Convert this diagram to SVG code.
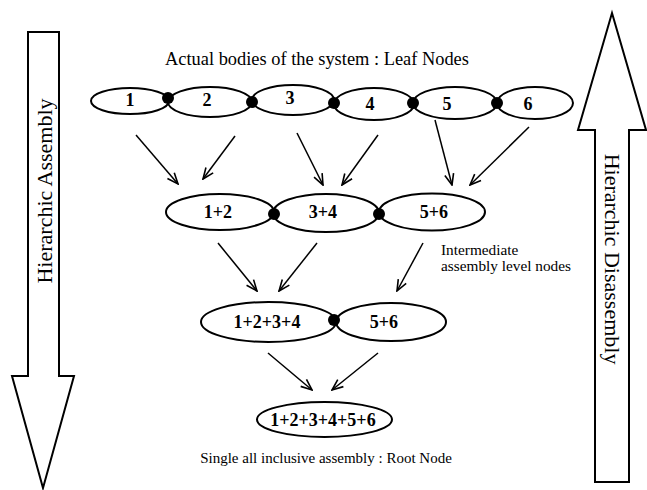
<svg xmlns="http://www.w3.org/2000/svg" width="647" height="490" viewBox="0 0 647 490">
<style>
.bg{fill:#fff}
.big{fill:#fff;stroke:#000;stroke-width:2}
.n{fill:#fff;stroke:#000;stroke-width:2}
.dot{fill:#000}
.lbl{font-family:"Liberation Serif",serif;font-weight:bold;font-size:18px;text-anchor:middle;fill:#000}
.txt{font-family:"Liberation Serif",serif;fill:#000}
.c{stroke:#000;stroke-width:1.5;fill:none;marker-end:url(#ah)}
</style>
<defs>
<marker id="ah" markerUnits="userSpaceOnUse" markerWidth="13" markerHeight="13" refX="12" refY="6.5" orient="auto" viewBox="0 0 13 13">
<path d="M1,2 L12,6.5 L1,11" fill="none" stroke="#000" stroke-width="1.6"/>
</marker>
</defs>
<rect class="bg" x="0" y="0" width="647" height="490"/>

<g id="arrow-assembly">
<path class="big" d="M28,32 L59,32 L59,376 L74,376 L43,488 L12,376 L28,376 Z"/>
<text class="txt" font-size="22" text-anchor="middle" transform="translate(52,191) rotate(-90)">Hierarchic Assembly</text>
</g>
<g id="arrow-disassembly">
<path class="big" d="M612,13 L646,130 L629,130 L629,482 L595,482 L595,130 L578,130 Z"/>
<text class="txt" font-size="22" text-anchor="middle" transform="translate(605,259) rotate(90)">Hierarchic Disassembly</text>
</g>

<g id="label-leaf"><text class="txt" font-size="18.4" x="317" y="65" text-anchor="middle">Actual bodies of the system : Leaf Nodes</text></g>
<g id="label-intermediate"><text class="txt" font-size="15.3" x="441" y="255">Intermediate</text><text class="txt" font-size="15.3" x="441" y="271">assembly level nodes</text></g>
<g id="label-root"><text class="txt" font-size="15" x="326" y="463" text-anchor="middle">Single all inclusive assembly : Root Node</text></g>

<g id="connectors">
<line class="c" x1="136" y1="135" x2="178" y2="184"/>
<line class="c" x1="235" y1="136" x2="203" y2="179"/>
<line class="c" x1="297" y1="133" x2="323" y2="185"/>
<line class="c" x1="378" y1="135" x2="342" y2="185"/>
<line class="c" x1="435" y1="120" x2="452" y2="185"/>
<line class="c" x1="529" y1="127" x2="470" y2="185"/>
<line class="c" x1="218" y1="243" x2="257" y2="291"/>
<line class="c" x1="317" y1="243" x2="279" y2="291"/>
<line class="c" x1="423" y1="243" x2="397" y2="291"/>
<line class="c" x1="268" y1="353" x2="312" y2="390"/>
<line class="c" x1="378" y1="353" x2="332" y2="390"/>
</g>

<g id="leaf-1"><ellipse class="n" cx="130" cy="101" rx="39" ry="13"/><text class="lbl" x="130" y="106">1</text></g>
<g id="leaf-2"><ellipse class="n" cx="210" cy="102" rx="42" ry="15"/><text class="lbl" x="207" y="106">2</text></g>
<g id="leaf-3"><ellipse class="n" cx="293" cy="100" rx="41" ry="15"/><text class="lbl" x="290" y="104">3</text></g>
<g id="leaf-4"><ellipse class="n" cx="374" cy="104" rx="40" ry="16"/><text class="lbl" x="370" y="110">4</text></g>
<g id="leaf-5"><ellipse class="n" cx="455" cy="103" rx="42" ry="16"/><text class="lbl" x="447" y="110">5</text></g>
<g id="leaf-6"><ellipse class="n" cx="535" cy="103" rx="38" ry="16"/><text class="lbl" x="528" y="110">6</text></g>
<g id="joints-leaf">
<circle class="dot" cx="168" cy="98" r="6"/>
<circle class="dot" cx="252" cy="102" r="6"/>
<circle class="dot" cx="334" cy="103" r="6"/>
<circle class="dot" cx="413" cy="103" r="6"/>
<circle class="dot" cx="497" cy="103" r="6"/>
</g>

<g id="mid-12"><ellipse class="n" cx="220" cy="212" rx="54" ry="18"/><text class="lbl" x="218" y="218">1+2</text></g>
<g id="mid-34"><ellipse class="n" cx="326" cy="213" rx="53" ry="19"/><text class="lbl" x="323" y="218">3+4</text></g>
<g id="mid-56"><ellipse class="n" cx="432" cy="212" rx="53" ry="18.5"/><text class="lbl" x="434" y="218">5+6</text></g>
<g id="joints-mid">
<circle class="dot" cx="274" cy="214" r="6"/>
<circle class="dot" cx="379" cy="214" r="6"/>
</g>

<g id="l3-1234"><ellipse class="n" cx="268.5" cy="322" rx="67.5" ry="20"/><text class="lbl" x="267" y="328">1+2+3+4</text></g>
<g id="l3-56"><ellipse class="n" cx="391" cy="322" rx="55" ry="19"/><text class="lbl" x="384" y="328">5+6</text></g>
<g id="joint-l3"><circle class="dot" cx="334" cy="320" r="6"/></g>

<g id="root"><ellipse class="n" cx="324.5" cy="419.5" rx="67.5" ry="17.5"/><text class="lbl" x="323" y="426">1+2+3+4+5+6</text></g>
</svg>
